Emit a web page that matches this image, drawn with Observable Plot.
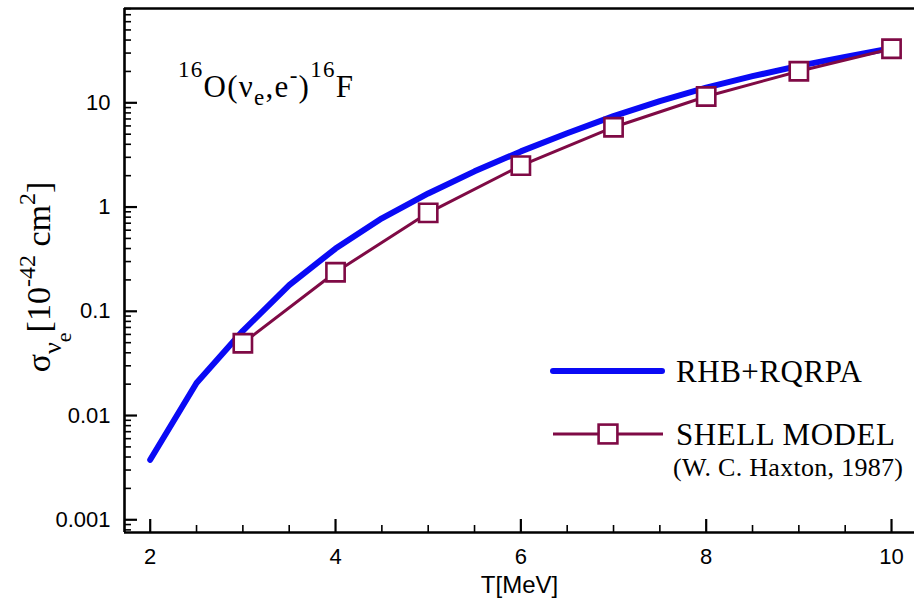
<!DOCTYPE html>
<html>
<head>
<meta charset="utf-8">
<script src="https://cdn.jsdelivr.net/npm/d3@7"></script>
<script src="https://cdn.jsdelivr.net/npm/@observablehq/plot@0.6"></script>
<style>
  html, body { margin: 0; padding: 0; background: white; }
  #chart { width: 914px; height: 600px; }
</style>
</head>
<body>
<div id="chart"></div>
<script>
// ---- data ----
const T_rhb = [2, 2.5, 3, 3.5, 4, 4.5, 5, 5.5, 6, 6.5, 7, 7.5, 8, 8.5, 9, 9.5, 10];
const sigma_rhb = [0.00376, 0.0205, 0.065, 0.178, 0.40, 0.78, 1.35, 2.2, 3.42, 5.1, 7.45, 10.4, 14.0, 18.0, 22.6, 27.6, 33.5];
const T_shell = [3, 4, 5, 6, 7, 8, 9, 10];
const sigma_shell = [0.0494, 0.237, 0.88, 2.5, 5.83, 11.5, 20.1, 33.0];
const xMajorTicks = [2, 4, 6, 8, 10];
const xMinorTicks = [2.5, 3, 3.5, 4.5, 5, 5.5, 6.5, 7, 7.5, 8.5, 9, 9.5];
const yMajorTicks = [0.001, 0.01, 0.1, 1, 10];
const yTickLabels = ["0.001", "0.01", "0.1", "1", "10"];
const seriesNames = ["RHB+RQRPA", "SHELL MODEL"];
const seriesNote = "(W. C. Haxton, 1987)";
const xLabel = "T[MeV]";

const xDomain = [1.7226, 10.248];
const yDomain = [0.000755, 80.3];
const yMinorTicks = [];
for (const dec of [0.0001, 0.001, 0.01, 0.1, 1, 10]) {
  for (let k = 2; k <= 9; k++) {
    const v = +(k * dec).toPrecision(3);
    if (v >= yDomain[0] && v <= yDomain[1]) yMinorTicks.push(v);
  }
}

const BLUE = "#0a0af5";
const MAROON = "#7f0a45";
const W = 914, H = 600, ML = 124, MR = 0, MT = 8, MB = 68;
const innerW = W - ML - MR, innerH = H - MT - MB;

const rhb = T_rhb.map((t, i) => ({T: t, s: sigma_rhb[i]}));
const shell = T_shell.map((t, i) => ({T: t, s: sigma_shell[i]}));

const svg = Plot.plot({
  width: W, height: H,
  marginLeft: ML, marginRight: MR, marginTop: MT, marginBottom: MB,
  style: {fontFamily: "'Liberation Sans', Arial, sans-serif", fontSize: "22px", color: "black", background: "white", overflow: "visible"},
  x: {type: "linear", domain: xDomain},
  y: {type: "log", domain: yDomain},
  marks: [
    Plot.axisX(xMajorTicks, {tickSize: 0, tickPadding: 16, label: null, fontSize: 22, tickFormat: d => String(d)}),
    Plot.axisY(yMajorTicks, {tickSize: 0, tickPadding: 14, label: null, fontSize: 22, tickFormat: d => yTickLabels[yMajorTicks.indexOf(d)]}),
    // inward ticks
    Plot.tickY(yMajorTicks, {y: d => d, insetRight: innerW - 13, strokeWidth: 2.2, stroke: "black"}),
    Plot.tickY(yMinorTicks, {y: d => d, insetRight: innerW - 7, strokeWidth: 1.6, stroke: "black"}),
    Plot.tickX(xMajorTicks, {x: d => d, insetTop: innerH - 13, strokeWidth: 2.2, stroke: "black"}),
    Plot.tickX(xMinorTicks, {x: d => d, insetTop: innerH - 7, strokeWidth: 1.6, stroke: "black"}),
    // frame lines
    Plot.ruleX([xDomain[0]], {strokeWidth: 2.6, stroke: "black"}),
    Plot.ruleY([yDomain[0]], {strokeWidth: 2.6, stroke: "black"}),
    Plot.ruleY([yDomain[1]], {strokeWidth: 2.6, stroke: "black"}),
    // data
    Plot.line(rhb, {x: "T", y: "s", stroke: BLUE, strokeWidth: 6, strokeLinecap: "round", strokeLinejoin: "round"}),
    Plot.line(shell, {x: "T", y: "s", stroke: MAROON, strokeWidth: 3, strokeLinejoin: "round"}),
    Plot.dot(shell, {x: "T", y: "s", symbol: "square", r: 10.3, fill: "white", stroke: MAROON, strokeWidth: 2.6}),
    // x label
    Plot.text([xLabel], {frameAnchor: "bottom", lineAnchor: "bottom", dy: 60, fontSize: 24, text: d => d})
  ]
});

document.getElementById("chart").appendChild(svg);

// ---- annotations and legend (serif text) ----
const g = d3.select(svg).append("g")
  .attr("font-family", "'Liberation Serif', 'Times New Roman', serif")
  .attr("text-anchor", "start")
  .attr("fill", "black");

// reaction label
const ann = g.append("text").attr("x", 178).attr("y", 97).attr("font-size", 31)
  .attr("textLength", 175).attr("lengthAdjust", "spacing");
ann.append("tspan").attr("font-size", 23).attr("dy", -20).text("16");
ann.append("tspan").attr("dy", 20).text("O(ν");
ann.append("tspan").attr("font-size", 23).attr("dy", 8).text("e");
ann.append("tspan").attr("dy", -8).text(",e");
ann.append("tspan").attr("font-size", 23).attr("dy", -14).text("-");
ann.append("tspan").attr("dy", 14).text(")");
ann.append("tspan").attr("font-size", 23).attr("dy", -20).text("16");
ann.append("tspan").attr("dy", 20).text("F");

// y-axis label
const yl = g.append("text")
  .attr("transform", "translate(50,277) rotate(-90)")
  .attr("text-anchor", "middle")
  .attr("font-size", 34);
yl.append("tspan").text("σ");
yl.append("tspan").attr("font-size", 26).attr("dy", 11).text("ν");
yl.append("tspan").attr("font-size", 22).attr("dy", 10).text("e");
yl.append("tspan").attr("dy", -21).text("[10");
yl.append("tspan").attr("font-size", 24).attr("dy", -15).text("-42");
yl.append("tspan").attr("dy", 15).text(" cm");
yl.append("tspan").attr("font-size", 24).attr("dy", -15).text("2");
yl.append("tspan").attr("dy", 15).text("]");

// legend
g.append("line").attr("x1", 553).attr("x2", 662).attr("y1", 371).attr("y2", 371)
  .attr("stroke", BLUE).attr("stroke-width", 6).attr("stroke-linecap", "round");
g.append("text").attr("x", 676).attr("y", 382).attr("font-size", 31)
  .attr("textLength", 186).attr("lengthAdjust", "spacing").text(seriesNames[0]);

g.append("line").attr("x1", 553).attr("x2", 663).attr("y1", 434).attr("y2", 434)
  .attr("stroke", MAROON).attr("stroke-width", 3);
g.append("rect").attr("x", 608 - 9.4).attr("y", 434 - 9.4).attr("width", 18.8).attr("height", 18.8)
  .attr("fill", "white").attr("stroke", MAROON).attr("stroke-width", 2.6);
g.append("text").attr("x", 676).attr("y", 445).attr("font-size", 31)
  .attr("textLength", 219).attr("lengthAdjust", "spacing").text(seriesNames[1]);
g.append("text").attr("x", 673).attr("y", 476).attr("font-size", 26)
  .attr("textLength", 230).attr("lengthAdjust", "spacing").text(seriesNote);
</script>
</body>
</html>
